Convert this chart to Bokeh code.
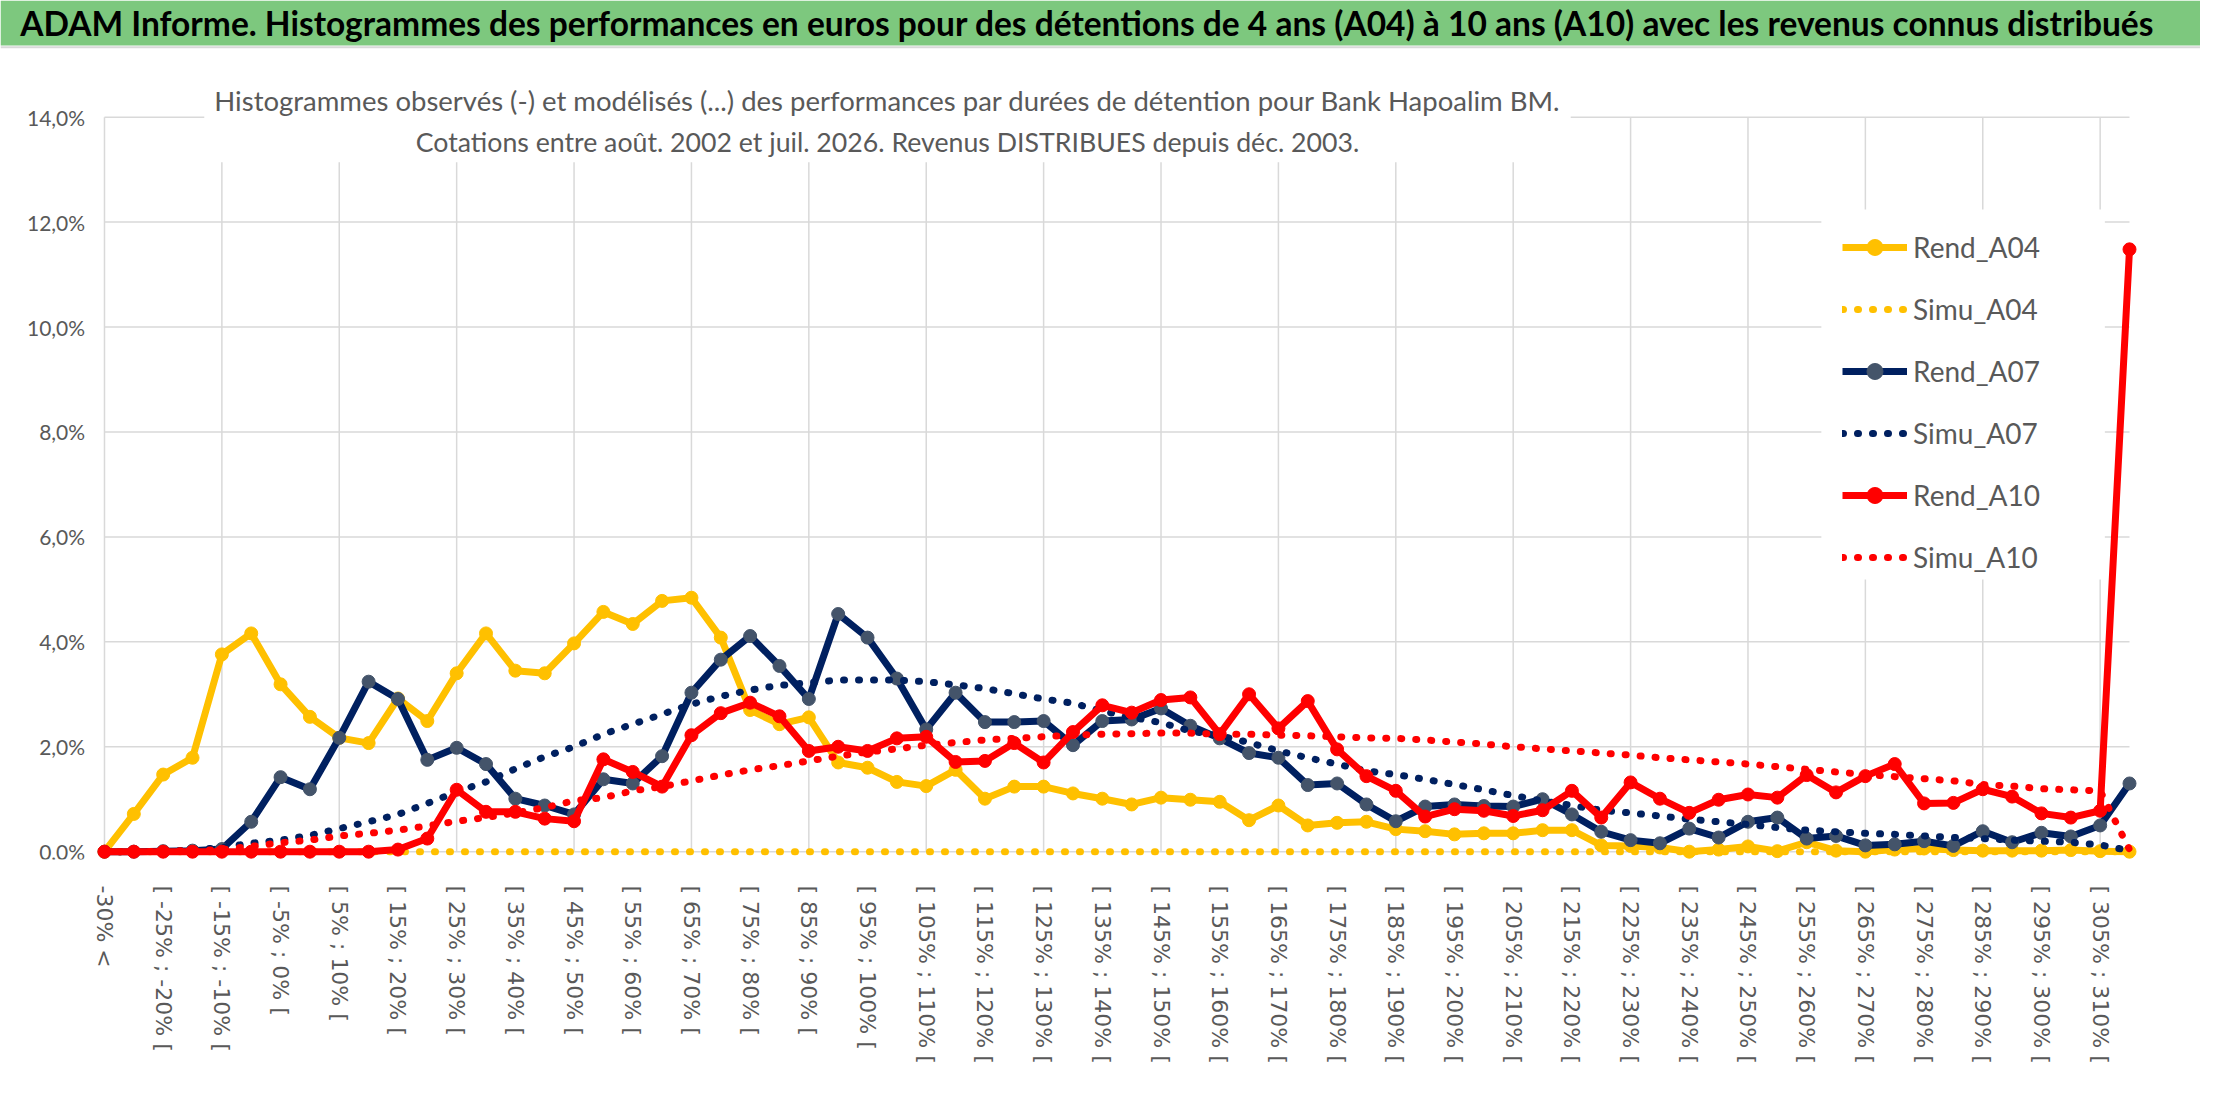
from bokeh.plotting import figure
from bokeh.models import (Range1d, FixedTicker, Label, BoxAnnotation, Legend, LegendItem, Span)
from bokeh.core.properties import value
from bokeh.embed import file_html
from bokeh.resources import INLINE

# ---------------- data ----------------
categories = [
    "-30% <", "[ -30% ; -25% [", "[ -25% ; -20% [", "[ -20% ; -15% [", "[ -15% ; -10% [",
    "[ -10% ; -5% [", "[ -5% ; 0% [", "[ 0% ; 5% [", "[ 5% ; 10% [", "[ 10% ; 15% [",
    "[ 15% ; 20% [", "[ 20% ; 25% [", "[ 25% ; 30% [", "[ 30% ; 35% [", "[ 35% ; 40% [",
    "[ 40% ; 45% [", "[ 45% ; 50% [", "[ 50% ; 55% [", "[ 55% ; 60% [", "[ 60% ; 65% [",
    "[ 65% ; 70% [", "[ 70% ; 75% [", "[ 75% ; 80% [", "[ 80% ; 85% [", "[ 85% ; 90% [",
    "[ 90% ; 95% [", "[ 95% ; 100% [", "[ 100% ; 105% [", "[ 105% ; 110% [", "[ 110% ; 115% [",
    "[ 115% ; 120% [", "[ 120% ; 125% [", "[ 125% ; 130% [", "[ 130% ; 135% [", "[ 135% ; 140% [",
    "[ 140% ; 145% [", "[ 145% ; 150% [", "[ 150% ; 155% [", "[ 155% ; 160% [", "[ 160% ; 165% [",
    "[ 165% ; 170% [", "[ 170% ; 175% [", "[ 175% ; 180% [", "[ 180% ; 185% [", "[ 185% ; 190% [",
    "[ 190% ; 195% [", "[ 195% ; 200% [", "[ 200% ; 205% [", "[ 205% ; 210% [", "[ 210% ; 215% [",
    "[ 215% ; 220% [", "[ 220% ; 225% [", "[ 225% ; 230% [", "[ 230% ; 235% [", "[ 235% ; 240% [",
    "[ 240% ; 245% [", "[ 245% ; 250% [", "[ 250% ; 255% [", "[ 255% ; 260% [", "[ 260% ; 265% [",
    "[ 265% ; 270% [", "[ 270% ; 275% [", "[ 275% ; 280% [", "[ 280% ; 285% [", "[ 285% ; 290% [",
    "[ 290% ; 295% [", "[ 295% ; 300% [", "[ 300% ; 305% [", "[ 305% ; 310% [", "> 310%",
]

rend_a04 = [0.00, 0.72, 1.47, 1.79, 3.76, 4.16, 3.19, 2.57, 2.17, 2.07,
            2.92, 2.49, 3.40, 4.16, 3.45, 3.40, 3.97, 4.57, 4.34, 4.78,
            4.84, 4.08, 2.70, 2.43, 2.56, 1.70, 1.60, 1.33, 1.25, 1.56,
            1.01, 1.24, 1.24, 1.11, 1.01, 0.90, 1.03, 0.99, 0.95, 0.60,
            0.88, 0.50, 0.55, 0.57, 0.43, 0.39, 0.33, 0.35, 0.35, 0.41,
            0.41, 0.12, 0.11, 0.08, 0.00, 0.04, 0.10, 0.01, 0.18, 0.02,
            0.00, 0.04, 0.06, 0.03, 0.02, 0.02, 0.02, 0.03, 0.01, 0.00]

simu_a04 = [0.00, 0.00, 0.00, 0.00, 0.00, 0.00, 0.00, 0.00, 0.00, 0.00,
            0.00, 0.00, 0.00, 0.00, 0.00, 0.00, 0.00, 0.00, 0.00, 0.00,
            0.00, 0.00, 0.00, 0.00, 0.00, 0.00, 0.00, 0.00, 0.00, 0.00,
            0.00, 0.00, 0.00, 0.00, 0.00, 0.00, 0.00, 0.00, 0.00, 0.00,
            0.00, 0.00, 0.00, 0.00, 0.00, 0.00, 0.00, 0.00, 0.00, 0.00,
            0.00, 0.00, 0.00, 0.00, 0.00, 0.00, 0.00, 0.00, 0.00, 0.00,
            0.00, 0.00, 0.00, 0.00, 0.00, 0.00, 0.00, 0.00, 0.00, 0.00]

rend_a07 = [0.00, 0.00, 0.01, 0.02, 0.05, 0.57, 1.42, 1.19, 2.17, 3.24,
            2.91, 1.75, 1.98, 1.67, 1.01, 0.88, 0.71, 1.38, 1.30, 1.82,
            3.03, 3.66, 4.11, 3.54, 2.91, 4.53, 4.08, 3.30, 2.33, 3.03,
            2.47, 2.47, 2.49, 2.03, 2.49, 2.52, 2.73, 2.40, 2.16, 1.88,
            1.79, 1.27, 1.30, 0.90, 0.58, 0.86, 0.90, 0.87, 0.86, 1.00,
            0.71, 0.38, 0.22, 0.16, 0.44, 0.27, 0.57, 0.65, 0.25, 0.30,
            0.12, 0.14, 0.20, 0.11, 0.39, 0.18, 0.36, 0.29, 0.50, 1.30]

simu_a07 = [0.00, 0.00, 0.01, 0.03, 0.08, 0.16, 0.22, 0.31, 0.44, 0.57,
            0.71, 0.92, 1.14, 1.33, 1.58, 1.81, 2.00, 2.24, 2.43, 2.62,
            2.81, 2.96, 3.08, 3.17, 3.22, 3.27, 3.27, 3.27, 3.24, 3.18,
            3.11, 3.01, 2.91, 2.83, 2.68, 2.56, 2.46, 2.30, 2.21, 2.08,
            1.92, 1.79, 1.67, 1.54, 1.47, 1.38, 1.28, 1.18, 1.07, 0.97,
            0.88, 0.79, 0.74, 0.68, 0.62, 0.57, 0.52, 0.46, 0.41, 0.38,
            0.35, 0.33, 0.30, 0.27, 0.25, 0.22, 0.20, 0.18, 0.13, 0.02]

rend_a10 = [0.00, 0.00, 0.00, 0.00, 0.00, 0.00, 0.00, 0.00, 0.00, 0.00,
            0.04, 0.25, 1.18, 0.76, 0.76, 0.63, 0.58, 1.76, 1.52, 1.24,
            2.22, 2.64, 2.84, 2.58, 1.92, 2.00, 1.92, 2.16, 2.19, 1.71,
            1.73, 2.07, 1.70, 2.28, 2.79, 2.65, 2.89, 2.94, 2.24, 3.00,
            2.35, 2.87, 1.95, 1.44, 1.16, 0.67, 0.81, 0.78, 0.68, 0.79,
            1.16, 0.65, 1.32, 1.01, 0.74, 0.99, 1.09, 1.03, 1.46, 1.13,
            1.44, 1.67, 0.92, 0.93, 1.19, 1.05, 0.73, 0.65, 0.78, 11.48]

simu_a10 = [0.00, 0.00, 0.01, 0.02, 0.04, 0.10, 0.17, 0.22, 0.30, 0.35,
            0.41, 0.49, 0.58, 0.65, 0.74, 0.84, 0.97, 1.03, 1.16, 1.24,
            1.35, 1.46, 1.56, 1.64, 1.73, 1.82, 1.90, 1.96, 2.03, 2.08,
            2.13, 2.16, 2.19, 2.22, 2.24, 2.25, 2.26, 2.26, 2.24, 2.24,
            2.22, 2.21, 2.19, 2.17, 2.16, 2.13, 2.09, 2.05, 2.00, 1.96,
            1.92, 1.88, 1.84, 1.79, 1.75, 1.71, 1.67, 1.62, 1.57, 1.52,
            1.47, 1.43, 1.39, 1.35, 1.28, 1.25, 1.20, 1.18, 1.16, 0.04]

y_ticks = [0, 2, 4, 6, 8, 10, 12, 14]
y_tick_labels = ["0,0%", "2,0%", "4,0%", "6,0%", "8,0%", "10,0%", "12,0%", "14,0%"]

title_text = ("ADAM Informe. Histogrammes des performances en euros pour des détentions "
              "de 4 ans (A04) à 10 ans (A10) avec les revenus connus distribués")
subtitle_1 = ("Histogrammes observés (-) et modélisés (...) des performances par durées "
              "de détention pour Bank Hapoalim BM.")
subtitle_2 = "Cotations entre août. 2002 et juil. 2026. Revenus DISTRIBUES depuis déc. 2003."

YELLOW = "#FFC000"
NAVY = "#002060"
NAVY_MK = "#44546A"
RED = "#FF0000"
GRID = "#D9D9D9"
TXT = "#595959"
GREEN = "#7DC87E"

xs = list(range(len(categories)))
n_last = len(categories) - 1

# ---------------- single figure; the frame covers the whole canvas width ----------------
p = figure(width=2200, height=1086,
           x_range=Range1d(-3.543, 71.419), y_range=Range1d(-0.149, 16.223),
           output_backend="svg", toolbar_location=None, y_axis_type=None,
           min_border_left=0, min_border_right=0, min_border_top=0, min_border_bottom=227)
p.outline_line_color = None
p.background_fill_color = "white"
p.border_fill_color = "white"
p.xgrid.visible = False
p.ygrid.visible = False

# category axis (bottom)
x_ticks = list(range(0, n_last, 2))
p.xaxis.ticker = FixedTicker(ticks=x_ticks)
p.xaxis.major_label_overrides = {i: categories[i] for i in x_ticks}
p.xaxis.major_label_orientation = "vertical"
p.xaxis.axis_line_color = None
p.xaxis.major_tick_line_color = None
p.xaxis.minor_tick_line_color = None
p.xaxis.major_label_text_font = "DejaVu Sans"
p.xaxis.major_label_text_font_size = "22px"
p.xaxis.major_label_text_color = TXT
p.xaxis.major_label_standoff = 20

# gridlines (limited to the plot area: first..last category, 0%..14%)
grid_x = list(range(0, len(categories), 4))
p.segment(x0=grid_x, y0=y_ticks[0], x1=grid_x, y1=y_ticks[-1], line_color=GRID, line_width=1.5)
p.segment(x0=0, y0=y_ticks, x1=n_last, y1=y_ticks, line_color=GRID, line_width=1.5)

# value axis labels
p.text(x=-0.66, y=y_ticks, text=y_tick_labels, text_font=value("Lato"), text_font_size="21px",
       text_color=TXT, text_align="right", text_baseline="middle")

# series
r04l = p.line(xs, rend_a04, line_color=YELLOW, line_width=7, line_join="round")
r04m = p.scatter(xs, rend_a04, size=13, fill_color=YELLOW, line_color=YELLOW)
s04 = p.line(xs, simu_a04, line_color=YELLOW, line_width=7, line_dash="1 14", line_cap="round")
r07l = p.line(xs, rend_a07, line_color=NAVY, line_width=7, line_join="round")
r07m = p.scatter(xs, rend_a07, size=13, fill_color=NAVY_MK, line_color=NAVY_MK)
s07 = p.line(xs, simu_a07, line_color=NAVY, line_width=7, line_dash="1 14", line_cap="round")
r10l = p.line(xs, rend_a10, line_color=RED, line_width=7, line_join="round")
r10m = p.scatter(xs, rend_a10, size=13, fill_color=RED, line_color=RED)
s10 = p.line(xs, simu_a10, line_color=RED, line_width=7, line_dash="1 14", line_cap="round")

# white box behind subtitle (hides gridlines) and behind the legend
p.add_layout(BoxAnnotation(left=3.4, right=49.96, bottom=13.14, top=15.2, fill_color="white",
                           fill_alpha=1, line_color=None))
p.add_layout(BoxAnnotation(left=58.5, right=68.16, bottom=5.19, top=12.24,
                           fill_color="white", fill_alpha=1, line_color=None))

# title bar
p.add_layout(BoxAnnotation(bottom=15.365, fill_color=GREEN, fill_alpha=1, line_color=None))
p.add_layout(Span(location=15.33, dimension="width", line_color=GRID, line_width=2))
p.add_layout(Label(x=-2.872, y=15.80, text=title_text, text_font="Lato",
                   text_font_style="bold", text_font_size="33.5px", text_color="#000000",
                   text_baseline="middle", text_align="left"))

# subtitle
p.add_layout(Label(x=26.68, y=14.317, text=subtitle_1, text_font="Lato", text_font_size="27.5px",
                   text_color=TXT, text_align="center", text_baseline="middle"))
p.add_layout(Label(x=26.68, y=13.517, text=subtitle_2, text_font="Lato", text_font_size="26.7px",
                   text_color=TXT, text_align="center", text_baseline="middle"))

legend = Legend(items=[
    LegendItem(label="Rend_A04", renderers=[r04l, r04m]),
    LegendItem(label="Simu_A04", renderers=[s04]),
    LegendItem(label="Rend_A07", renderers=[r07l, r07m]),
    LegendItem(label="Simu_A07", renderers=[s07]),
    LegendItem(label="Rend_A10", renderers=[r10l, r10m]),
    LegendItem(label="Simu_A10", renderers=[s10]),
], location=(1832, 272))
legend.label_text_font = "Lato"
legend.label_text_font_size = "28px"
legend.label_text_color = TXT
legend.glyph_width = 65
legend.glyph_height = 40
legend.label_height = 40
legend.spacing = 22
legend.padding = 10
legend.margin = 0
legend.label_standoff = 6
legend.background_fill_alpha = 0
legend.border_line_alpha = 0
p.add_layout(legend)

open("out.html", "w").write(file_html(p, INLINE))
